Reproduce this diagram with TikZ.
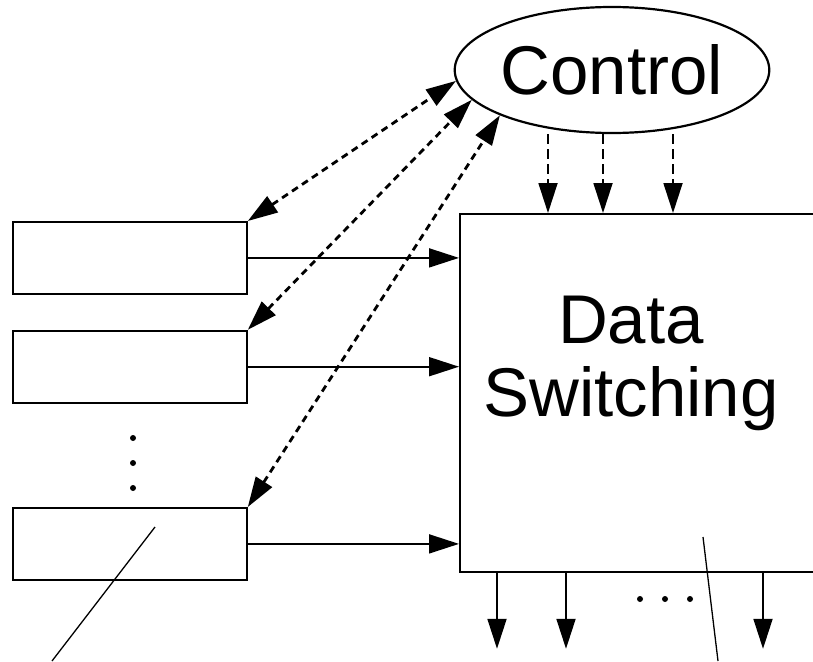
\documentclass[tikz,border=0pt]{standalone}
\usepackage{fontspec}
\setmainfont{Liberation Sans}
\usetikzlibrary{positioning,arrows.meta,shapes.geometric}

\begin{document}
\begin{tikzpicture}[
  x=1pt, y=-1pt,
  >={Triangle[length=30pt,width=19pt]},
  line width=1.8pt,
  big/.style={font=\fontsize{69}{73}\selectfont},
  port/.style={draw,minimum width=234pt,minimum height=72pt,inner sep=0pt},
  signal/.style={dash pattern=on 7pt off 5pt,line width=2.8pt},
  order/.style={dash pattern=on 10pt off 5pt},
  blob/.style={circle,fill,inner sep=0pt,minimum size=6pt}
]
  \useasboundingbox (0,0) rectangle (813,661);
  \node[ellipse,draw,big,minimum width=302pt,minimum height=126pt,inner sep=0pt,line width=2.2pt] (ctrl) at (612,70) {Control};
  \node[draw,anchor=north west,minimum width=420pt,minimum height=358pt] (switch) at (459,213) {};
  \node[big,align=center,anchor=north,inner sep=0pt] (swtext) at (631,295) {Data\\Switching};
  \node[port,anchor=north west] (port1) at (12,221) {};
  \node[port,below=35pt of port1] (port2) {};
  \node[port,anchor=north west] (port3) at (12,507) {};
  % data paths
  \foreach \p in {port1,port2,port3}
    \draw[->] (\p.east) -- (\p.east -| switch.west);
  % signalling
  \foreach \p/\a in {port1/184,port2/192,port3/202}
    \draw[<->,signal] (\p.north east) -- (ctrl.\a);
  \foreach \x in {548,603,673}
    \draw[->,order] (\x,0 |- ctrl.south) -- (\x,0 |- switch.north);
  % outputs
  \foreach \x in {497,566,763}
    \draw[->] (\x,0 |- switch.south) -- ++(0,76);
  \foreach \y [count=\i] in {438,463,488}
    \node[blob] (vdot\i) at (133,\y) {};
  \foreach \x [count=\i] in {640,665,690}
    \node[blob] (hdot\i) at (\x,599) {};
  \draw[line width=1.3pt] (155,527) -- (52,661);
  \draw[line width=1.3pt] (703,537) -- (718,661);
\end{tikzpicture}
\end{document}
